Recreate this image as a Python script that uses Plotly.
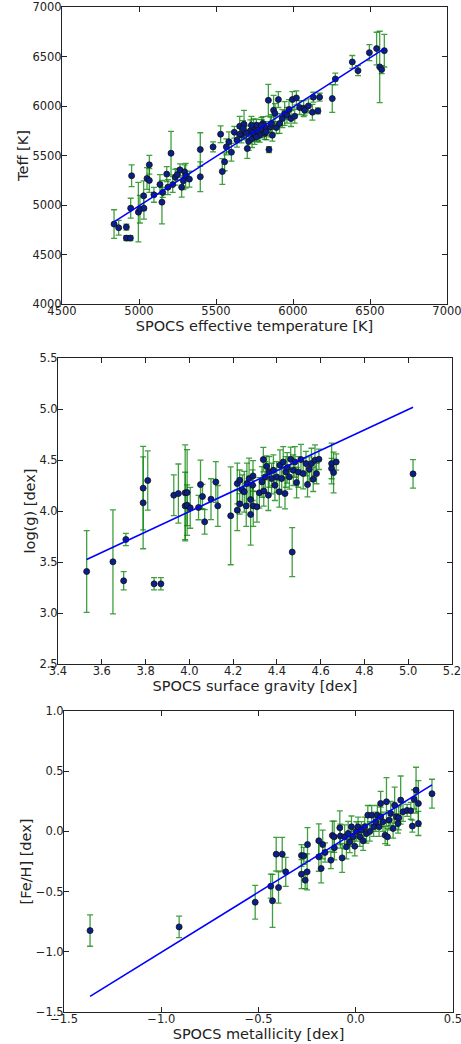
import plotly.graph_objects as go

# ---------------- Panel 1: effective temperature ----------------
teff_spocs = [4838, 4868, 4918, 4918, 4944, 4946, 4952, 4996, 5006, 5032, 5030, 5052, 5067, 5067,
              5097, 5136, 5149, 5154, 5180, 5188, 5208, 5219, 5236, 5249, 5266, 5277, 5288, 5296,
              5303, 5327, 5398, 5398, 5481, 5530, 5541, 5556, 5567, 5584, 5600, 5619, 5636, 5654,
              5665, 5682, 5703, 5712, 5723, 5734, 5744, 5751, 5762, 5773, 5784, 5797, 5805, 5816,
              5827, 5840, 5844, 5853, 5866, 5874, 5883, 5892, 5905, 5913, 5931, 5946, 5961, 5974,
              5987, 5996, 6011, 6022, 6043, 6069, 6076, 6100, 6126, 6132, 6162, 6173, 6255, 6275,
              6385, 6422, 6496, 6543, 6563, 6576, 6593, 5675, 5697, 5740, 5795, 5654, 5730, 5762,
              5827, 5860]
teff_meas = [4807, 4770, 4777, 4666, 4666, 4968, 5295, 4928, 4958, 4968, 5093, 5268, 5406, 5248,
             5103, 5207, 5029, 5127, 5312, 5180, 5523, 5207, 5281, 5308, 5355, 5180, 5245, 5335,
             5295, 5261, 5560, 5285, 5587, 5715, 5338, 5436, 5587, 5638, 5533, 5735, 5655, 5796,
             5708, 5816, 5570, 5641, 5749, 5671, 5789, 5712, 5806, 5739, 5705, 5772, 5823, 5722,
             5772, 6058, 5560, 5789, 5705, 5957, 5924, 5782, 6065, 5823, 5873, 5924, 5907, 5964,
             5873, 6065, 5897, 6082, 5984, 5974, 5957, 6001, 5937, 6089, 5950, 6089, 6075, 6273,
             6445, 6357, 6539, 6580, 6395, 6368, 6559, 5772, 5729, 5729, 5806, 5715, 5806, 5688,
             5739, 5823]
teff_err = [145, 75, 30, 25, 25, 100, 110, 300, 140, 110, 150, 110, 95, 120,
            75, 100, 220, 50, 75, 75, 220, 80, 80, 60, 60, 100, 90, 70,
            125, 80, 170, 150, 50, 85, 130, 90, 80, 100, 90, 60, 70, 100,
            80, 140, 100, 90, 110, 90, 80, 100, 60, 90, 70, 90, 70, 60,
            70, 160, 30, 100, 60, 150, 100, 60, 80, 100, 90, 120, 80, 100,
            80, 80, 70, 70, 70, 80, 50, 70, 80, 50, 30, 40, 140, 60,
            65, 50, 80, 165, 360, 40, 165, 80, 70, 70, 80, 60, 90, 50,
            80, 90]
teff_fit_x = [4838, 6593]
teff_fit_y = [4830, 6580]

# ---------------- Panel 2: surface gravity ----------------
logg_spocs = [3.531, 3.651, 3.700, 3.710, 3.789, 3.789, 3.810, 3.839, 3.870, 3.929, 3.950, 3.981,
              3.981, 3.990, 3.990, 4.004, 4.042, 4.051, 4.060, 4.070, 4.099, 4.121, 4.130, 4.189,
              4.219, 4.219, 4.230, 4.230, 4.242, 4.251, 4.260, 4.263, 4.273, 4.280, 4.280, 4.289,
              4.291, 4.292, 4.309, 4.320, 4.332, 4.338, 4.340, 4.347, 4.353, 4.361, 4.365, 4.376,
              4.384, 4.391, 4.399, 4.411, 4.414, 4.422, 4.429, 4.437, 4.441, 4.447, 4.457, 4.463,
              4.470, 4.475, 4.482, 4.490, 4.498, 4.510, 4.520, 4.533, 4.540, 4.548, 4.558, 4.566,
              4.574, 4.581, 4.592, 4.650, 4.650, 4.659, 4.671, 5.022]
logg_meas = [3.407, 3.502, 3.316, 3.721, 4.224, 4.080, 4.299, 3.286, 3.286, 4.155, 4.171, 4.178,
             4.050, 4.181, 4.057, 4.031, 4.034, 4.259, 4.142, 3.894, 4.116, 4.285, 4.050, 3.953,
             4.008, 4.269, 4.302, 4.070, 4.204, 4.188, 4.050, 4.269, 4.318, 4.112, 3.966, 4.253,
             4.344, 4.050, 4.041, 4.178, 4.285, 4.504, 4.197, 4.334, 4.439, 4.155, 4.383, 4.318,
             4.400, 4.253, 4.334, 4.188, 4.449, 4.318, 4.481, 4.171, 4.383, 4.423, 4.334, 4.507,
             3.597, 4.400, 4.481, 4.279, 4.383, 4.504, 4.367, 4.465, 4.259, 4.410, 4.465, 4.311,
             4.498, 4.367, 4.507, 4.465, 4.416, 4.377, 4.481, 4.364]
logg_err = [0.40, 0.51, 0.09, 0.06, 0.41, 0.45, 0.29, 0.06, 0.06, 0.20, 0.29, 0.47,
            0.33, 0.42, 0.20, 0.20, 0.12, 0.24, 0.12, 0.12, 0.20, 0.20, 0.20, 0.48,
            0.20, 0.20, 0.10, 0.10, 0.15, 0.20, 0.20, 0.20, 0.20, 0.15, 0.30, 0.15,
            0.15, 0.20, 0.15, 0.15, 0.15, 0.12, 0.15, 0.15, 0.10, 0.15, 0.15, 0.15,
            0.15, 0.15, 0.15, 0.15, 0.15, 0.15, 0.15, 0.15, 0.15, 0.15, 0.12, 0.12,
            0.24, 0.15, 0.15, 0.15, 0.15, 0.15, 0.15, 0.12, 0.12, 0.12, 0.15, 0.12,
            0.15, 0.10, 0.10, 0.20, 0.10, 0.20, 0.08, 0.14]
logg_fit_x = [3.531, 5.022]
logg_fit_y = [3.525, 5.017]

# ---------------- Panel 3: metallicity ----------------
feh_spocs = [-1.366, -0.908, -0.517, -0.437, -0.428, -0.409, -0.397, -0.378, -0.360, -0.279, -0.279,
             -0.267, -0.260, -0.250, -0.248, -0.190, -0.190, -0.178, -0.170, -0.158, -0.128, -0.120,
             -0.110, -0.111, -0.082, -0.079, -0.070, -0.057, -0.048, -0.039, -0.031, -0.022, -0.014,
             -0.005, 0.003, 0.012, 0.021, 0.029, 0.038, 0.046, 0.055, 0.062, 0.072, 0.082, 0.092,
             0.103, 0.111, 0.120, 0.128, 0.128, 0.140, 0.151, 0.158, 0.163, 0.171, 0.180, 0.192,
             0.200, 0.209, 0.217, 0.221, 0.231, 0.243, 0.264, 0.283, 0.291, 0.300, 0.310, 0.322,
             0.322, 0.392]
feh_meas = [-0.824, -0.793, -0.588, -0.455, -0.577, -0.189, -0.466, -0.189, -0.336, -0.355, -0.200,
            -0.203, -0.405, -0.336, -0.109, -0.078, -0.211, -0.308, -0.109, -0.175, -0.239, -0.034,
            -0.136, -0.045, 0.030, -0.039, -0.220, -0.045, -0.128, -0.017, -0.087, 0.038, -0.045,
            -0.123, 0.000, 0.038, -0.045, 0.011, -0.078, 0.038, -0.017, 0.135, 0.000, 0.135, 0.038,
            0.080, 0.135, 0.038, 0.232, 0.121, 0.080, -0.031, 0.246, -0.045, 0.093, 0.149, 0.024,
            0.218, 0.121, 0.066, 0.113, 0.260, 0.163, 0.174, 0.171, 0.044, 0.266, 0.343, 0.232,
            0.066, 0.313]
feh_err = [0.13, 0.09, 0.14, 0.10, 0.22, 0.14, 0.13, 0.14, 0.12, 0.12, 0.09,
           0.07, 0.07, 0.15, 0.14, 0.14, 0.12, 0.12, 0.12, 0.08, 0.07, 0.12,
           0.10, 0.13, 0.14, 0.10, 0.12, 0.10, 0.10, 0.10, 0.09, 0.09, 0.08,
           0.08, 0.08, 0.08, 0.08, 0.07, 0.08, 0.08, 0.08, 0.08, 0.08, 0.08, 0.08,
           0.08, 0.08, 0.08, 0.10, 0.08, 0.08, 0.07, 0.20, 0.07, 0.08, 0.10, 0.08,
           0.15, 0.08, 0.08, 0.10, 0.20, 0.08, 0.05, 0.07, 0.05, 0.08, 0.19, 0.19,
           0.10, 0.12]
feh_fit_x = [-1.366, 0.392]
feh_fit_y = [-1.370, 0.387]

panels = [
    dict(x=teff_spocs, y=teff_meas, e=teff_err, fx=teff_fit_x, fy=teff_fit_y,
         xr=[4500, 7000], yr=[4000, 7000], xd=500, yd=500, fmt="d",
         xt="SPOCS effective temperature [K]", yt="Teff [K]",
         xdom=[62/461, 447/461], ydom=[1-304/1044, 1-7/1044], ys=0),
    dict(x=logg_spocs, y=logg_meas, e=logg_err, fx=logg_fit_x, fy=logg_fit_y,
         xr=[3.4, 5.2], yr=[2.5, 5.5], xd=0.2, yd=0.5, fmt=".1f",
         xt="SPOCS surface gravity [dex]", yt="log(g) [dex]",
         xdom=[58/461, 452/461], ydom=[1-664/1044, 1-358/1044], ys=0),
    dict(x=feh_spocs, y=feh_meas, e=feh_err, fx=feh_fit_x, fy=feh_fit_y,
         xr=[-1.5, 0.5], yr=[-1.5, 1.0], xd=0.5, yd=0.5, fmt=".1f",
         xt="SPOCS metallicity [dex]", yt="[Fe/H] [dex]",
         xdom=[64/461, 453/461], ydom=[1-1012/1044, 1-711/1044], ys=0),
]

fig = go.Figure()
font = "DejaVu Sans"
for i, p in enumerate(panels):
    n = "" if i == 0 else str(i + 1)
    fig.add_trace(go.Scatter(
        x=p["x"], y=p["y"], mode="markers",
        xaxis="x" + n, yaxis="y" + n,
        marker=dict(size=6, color="#0b1f8a", line=dict(color="#111", width=0.8)),
        error_y=dict(type="data", array=p["e"], visible=True,
                     color="rgba(0,128,0,0.75)", thickness=1.3, width=3),
        showlegend=False, hoverinfo="x+y"))
    fig.add_trace(go.Scatter(
        x=p["fx"], y=p["fy"], mode="lines", xaxis="x" + n, yaxis="y" + n,
        line=dict(color="#0000ff", width=1.6), showlegend=False))
    axcommon = dict(showline=True, linecolor="#222", linewidth=1, mirror="allticks",
                    ticks="inside", ticklen=5, tickcolor="#222", showgrid=False,
                    zeroline=False, automargin=False, ticklabeloverflow="allow",
                    tickfont=dict(family=font, size=11.5, color="#222"),
                    tickformat=p["fmt"])
    fig.update_layout(**{
        "xaxis" + n: dict(axcommon, domain=p["xdom"], range=p["xr"], dtick=p["xd"],
                          tick0=p["xr"][0], anchor="y" + n, ticklabelstandoff=-4,
                          title=dict(text=p["xt"], font=dict(family=font, size=14.5, color="#222"),
                                     standoff=2)),
        "yaxis" + n: dict(axcommon, domain=p["ydom"], range=p["yr"], dtick=p["yd"],
                          tick0=p["yr"][0], anchor="x" + n, ticklabelstandoff=-3,
                          title=dict(text=p["yt"], font=dict(family=font, size=14.5, color="#222"),
                                     standoff=p["ys"])),
    })

fig.update_layout(width=461, height=1044, margin=dict(l=0, r=0, t=0, b=0),
                  paper_bgcolor="white", plot_bgcolor="white")
fig.write_html("out.html", config={"displayModeBar": False})

# remove the browser's default page margin so the figure fills the window exactly
with open("out.html", encoding="utf-8") as f:
    html = f.read()
html = html.replace("<head>", "<head><style>html,body{margin:0;padding:0;overflow:hidden;}</style>", 1)
with open("out.html", "w", encoding="utf-8") as f:
    f.write(html)
